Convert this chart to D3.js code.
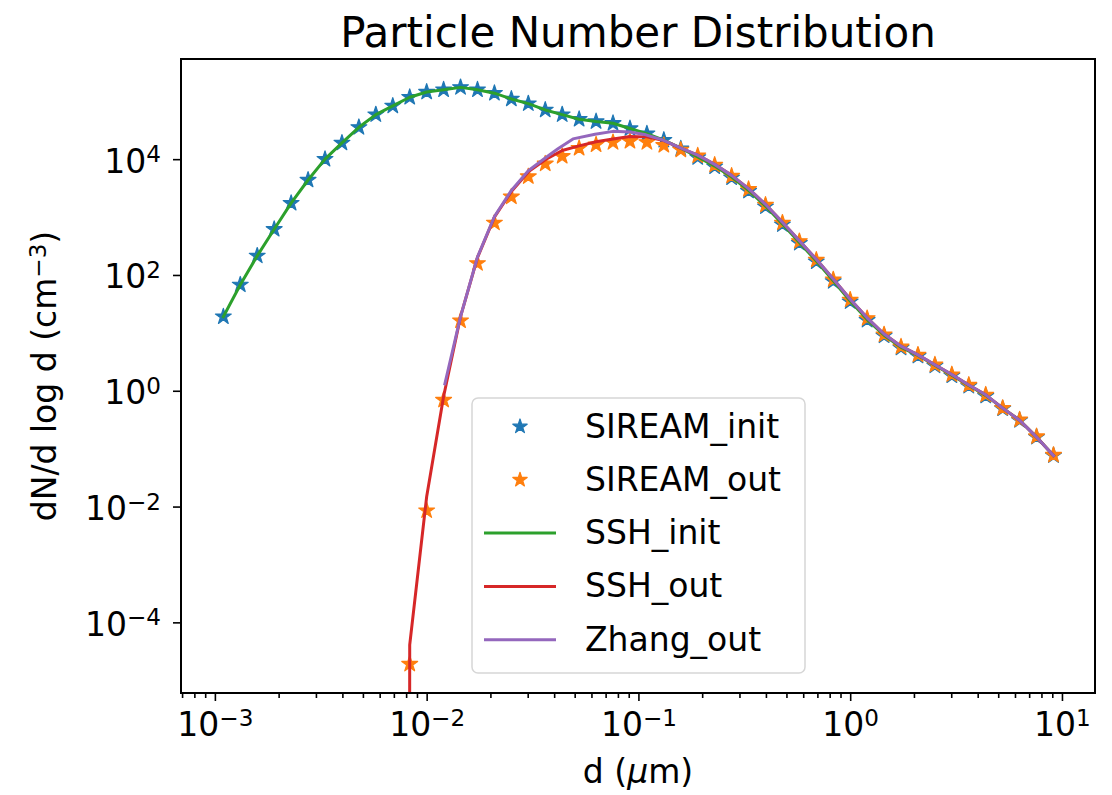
<html>

<head>
    <meta charset="utf-8">
    <title>Particle Number Distribution</title>
    <script src="https://d3js.org/d3.v7.min.js" charset="utf-8"></script>
    <style>
        body { margin: 0; background: #fff; }
        text { font-family: "DejaVu Sans", sans-serif; fill: #000; }
    </style>
</head>

<body>
    <div id="main-svg"></div>
</body>
<script>
    // bin centres, log10(d / um), shared by SIREAM and SSH
    var logD = [-2.96, -2.88, -2.80, -2.72, -2.64, -2.56, -2.48, -2.40, -2.32, -2.24,
        -2.16, -2.08, -2.00, -1.92, -1.84, -1.76, -1.68, -1.60, -1.52, -1.44,
        -1.36, -1.28, -1.20, -1.12, -1.04, -0.96, -0.88, -0.80, -0.72, -0.64,
        -0.56, -0.48, -0.40, -0.32, -0.24, -0.16, -0.08, 0.00, 0.08, 0.16,
        0.24, 0.32, 0.40, 0.48, 0.56, 0.64, 0.72, 0.80, 0.88, 0.96];

    // log10(dN/dlogd), null = no value plotted
    var sireamInit = [1.28, 1.83, 2.33, 2.79, 3.24, 3.64, 4.00, 4.28, 4.55, 4.77,
        4.92, 5.07, 5.16, 5.20, 5.24, 5.20, 5.14, 5.04, 4.96, 4.85,
        4.77, 4.69, 4.65, 4.62, 4.53, 4.44, 4.33, 4.18, 4.03, 3.87,
        3.68, 3.45, 3.18, 2.87, 2.55, 2.23, 1.89, 1.54, 1.22, 0.95,
        0.74, 0.60, 0.43, 0.26, 0.08, -0.09, -0.31, -0.51, -0.80, -1.12];

    var sireamOut = [null, null, null, null, null, null, null, null, null, null,
        null, -4.72, -2.07, -0.16, 1.21, 2.20, 2.90, 3.35, 3.70, 3.92,
        4.05, 4.19, 4.25, 4.29, 4.31, 4.29, 4.24, 4.16, 4.06, 3.90,
        3.71, 3.48, 3.21, 2.90, 2.58, 2.26, 1.92, 1.57, 1.25, 0.97,
        0.76, 0.62, 0.45, 0.28, 0.10, -0.07, -0.30, -0.50, -0.79, -1.11];

    var sshInit = [1.28, 1.83, 2.33, 2.79, 3.24, 3.64, 4.00, 4.28, 4.55, 4.77,
        4.92, 5.07, 5.16, 5.20, 5.24, 5.20, 5.14, 5.04, 4.96, 4.85,
        4.77, 4.69, 4.65, 4.62, 4.53, 4.44, 4.33, 4.19, 4.04, 3.88,
        3.69, 3.46, 3.19, 2.88, 2.56, 2.24, 1.90, 1.55, 1.23, 0.96,
        0.75, 0.61, 0.44, 0.27, 0.09, -0.08, -0.30, -0.51, -0.80, -1.12];

    // -300 : empty bin, clipped the way matplotlib does on a log axis
    var sshOut = [null, null, null, null, null, null, null, null, null, null,
        -300, -4.39, -1.83, -0.10, 1.28, 2.30, 3.00, 3.44, 3.78, 3.99,
        4.15, 4.23, 4.30, 4.35, 4.39, 4.385, 4.32, 4.19, 4.07, 3.91,
        3.72, 3.49, 3.22, 2.91, 2.59, 2.27, 1.93, 1.58, 1.26, 0.98,
        0.77, 0.62, 0.45, 0.28, 0.10, -0.07, -0.30, -0.51, -0.80, -1.12];

    // Zhang has its own grid
    var zhangD = [-1.914, -1.84, -1.76, -1.68, -1.60, -1.52, -1.44, -1.380, -1.309, -1.205,
        -1.120, -1.040, -0.965, -0.884, -0.804, -0.72, -0.64, -0.56, -0.48, -0.40,
        -0.32, -0.24, -0.16, -0.08, 0.00, 0.08, 0.16, 0.24, 0.32, 0.40,
        0.48, 0.56, 0.64, 0.72, 0.80, 0.88, 0.96];
    var zhangOut = [0.12, 1.28, 2.31, 3.01, 3.46, 3.80, 4.02, 4.18, 4.35, 4.43,
        4.48, 4.47, 4.42, 4.33, 4.20, 4.07, 3.91, 3.72, 3.49, 3.22,
        2.91, 2.59, 2.27, 1.93, 1.58, 1.26, 0.98, 0.77, 0.62, 0.45,
        0.28, 0.10, -0.07, -0.30, -0.51, -0.80, -1.12];

    var xLimits = [-3.16, 1.156];   // log10 axis limits
    var yLimits = [-5.22, 5.73];
    var xMajorTicks = [1e-3, 1e-2, 1e-1, 1e0, 1e1];
    var xTickExp = ["\u22123", "\u22122", "\u22121", "0", "1"];
    var yMajorTicks = [1e-4, 1e-2, 1e0, 1e2, 1e4];
    var yTickExp = ["\u22124", "\u22122", "0", "2", "4"];

    var legendNames = ["SIREAM_init", "SIREAM_out", "SSH_init", "SSH_out", "Zhang_out"];
    var colors = ["#1f77b4", "#ff7f0e", "#2ca02c", "#d62728", "#9467bd"];

    var width = 1112, height = 795;
    var plot = { left: 181, right: 1095, top: 59, bottom: 693 };

    var x = d3.scaleLog()
        .domain([Math.pow(10, xLimits[0]), Math.pow(10, xLimits[1])])
        .range([plot.left, plot.right]);
    var y = d3.scaleLog()
        .domain([Math.pow(10, yLimits[0]), Math.pow(10, yLimits[1])])
        .range([plot.bottom, plot.top]);

    var svg = d3.select("#main-svg")
        .append("svg")
        .attr("width", width)
        .attr("height", height);

    svg.append("rect").attr("width", width).attr("height", height).attr("fill", "#fff");

    svg.append("clipPath").attr("id", "clip")
        .append("rect")
        .attr("x", plot.left).attr("y", plot.top)
        .attr("width", plot.right - plot.left).attr("height", plot.bottom - plot.top);

    function pairs(xs, ys) {
        var out = [];
        for (var i = 0; i < xs.length; i++) {
            if (ys[i] != null) out.push([Math.pow(10, xs[i]), Math.pow(10, ys[i])]);
        }
        return out;
    }

    var star = d3.symbol().type(d3.symbolStar).size(78);
    var line = d3.line()
        .x(function (d) { return x(d[0]); })
        .y(function (d) { return y(d[1]); });

    var g = svg.append("g").attr("clip-path", "url(#clip)");

    // markers first, lines on top (matplotlib plot order)
    [sireamInit, sireamOut].forEach(function (s, k) {
        g.selectAll(".star" + k)
            .data(pairs(logD, s))
            .enter()
            .append("path")
            .attr("d", star)
            .attr("transform", function (d) { return "translate(" + x(d[0]) + "," + y(d[1]) + ")"; })
            .attr("fill", colors[k])
            .attr("stroke", colors[k])
            .attr("stroke-width", 1.2)
            .attr("stroke-linejoin", "round");
    });

    var lineSets = [[logD, sshInit], [logD, sshOut], [zhangD, zhangOut]];
    lineSets.forEach(function (s, k) {
        g.append("path")
            .datum(pairs(s[0], s[1]))
            .attr("d", line)
            .attr("fill", "none")
            .attr("stroke", colors[k + 2])
            .attr("stroke-width", 3)
            .attr("stroke-linejoin", "round")
            .attr("stroke-linecap", "square");
    });

    // axes
    var xMinor = [];
    for (var e = -4; e <= 0; e++) {
        for (var m = 2; m <= 9; m++) {
            var v = m * Math.pow(10, e);
            if (v > x.domain()[0] && v < x.domain()[1]) xMinor.push(v);
        }
    }

    function supLabel(sel, exps) {
        sel.each(function (d, i) {
            var t = d3.select(this).text(null);
            t.append("tspan").text("10");
            t.append("tspan").attr("dy", "-0.45em").attr("font-size", "0.7em").text(exps[i]);
        });
    }

    var xAxis = svg.append("g")
        .attr("transform", "translate(0," + plot.bottom + ")")
        .call(d3.axisBottom(x).tickValues(xMajorTicks).tickSize(8).tickPadding(14));
    svg.append("g")
        .attr("transform", "translate(0," + plot.bottom + ")")
        .call(d3.axisBottom(x).tickValues(xMinor).tickSize(5).tickFormat(""));

    var yAxis = svg.append("g")
        .attr("transform", "translate(" + plot.left + ",0)")
        .call(d3.axisLeft(y).tickValues(yMajorTicks).tickSize(8).tickPadding(12));

    svg.selectAll(".domain").remove();
    svg.selectAll(".tick line").attr("stroke", "#000").attr("stroke-width", 1.6);

    xAxis.selectAll(".tick text")
        .attr("font-size", 33).attr("font-family", "DejaVu Sans")
        .attr("dy", null).attr("y", 43)
        .call(supLabel, xTickExp);
    yAxis.selectAll(".tick text")
        .attr("font-size", 33).attr("font-family", "DejaVu Sans")
        .attr("dy", null).attr("y", 13)
        .call(supLabel, yTickExp);

    svg.append("rect")
        .attr("x", plot.left).attr("y", plot.top)
        .attr("width", plot.right - plot.left).attr("height", plot.bottom - plot.top)
        .attr("fill", "none").attr("stroke", "#000").attr("stroke-width", 2);

    // title and labels
    svg.append("text")
        .attr("x", (plot.left + plot.right) / 2).attr("y", 47)
        .attr("text-anchor", "middle").attr("font-size", 42)
        .text("Particle Number Distribution");

    var xl = svg.append("text")
        .attr("x", (plot.left + plot.right) / 2).attr("y", 783)
        .attr("text-anchor", "middle").attr("font-size", 33);
    xl.append("tspan").text("d (");
    xl.append("tspan").attr("font-style", "italic").text("\u03bc");
    xl.append("tspan").text("m)");

    var yl = svg.append("text")
        .attr("transform", "translate(56," + (plot.top + plot.bottom) / 2 + ") rotate(-90)")
        .attr("text-anchor", "middle").attr("font-size", 33);
    yl.append("tspan").text("dN/d log d (cm");
    yl.append("tspan").attr("dy", "-0.45em").attr("font-size", "0.7em").text("\u22123");
    yl.append("tspan").attr("dy", "0.315em").text(")");

    // legend
    var legend = svg.append("g");
    legend.append("rect")
        .attr("x", 472).attr("y", 398).attr("width", 333).attr("height", 275)
        .attr("rx", 6).attr("fill", "#fff").attr("fill-opacity", 0.8)
        .attr("stroke", "#d6d6d6").attr("stroke-width", 1.5);

    var rows = legend.selectAll(".row")
        .data(legendNames)
        .enter()
        .append("g")
        .attr("transform", function (d, i) { return "translate(0," + (426.5 + i * 53.3) + ")"; });

    rows.filter(function (d, i) { return i < 2; })
        .append("path")
        .attr("d", d3.symbol().type(d3.symbolStar).size(64))
        .attr("transform", "translate(520,0)")
        .attr("fill", function (d, i) { return colors[i]; })
        .attr("stroke", function (d, i) { return colors[i]; })
        .attr("stroke-width", 1.2)
        .attr("stroke-linejoin", "round");

    rows.filter(function (d, i) { return i >= 2; })
        .append("line")
        .attr("x1", 484).attr("x2", 556)
        .attr("stroke", function (d, i) { return colors[i + 2]; })
        .attr("stroke-width", 3);

    rows.append("text")
        .attr("x", 585).attr("y", 11)
        .attr("font-size", 33)
        .text(function (d) { return d; });
</script>

</html>
